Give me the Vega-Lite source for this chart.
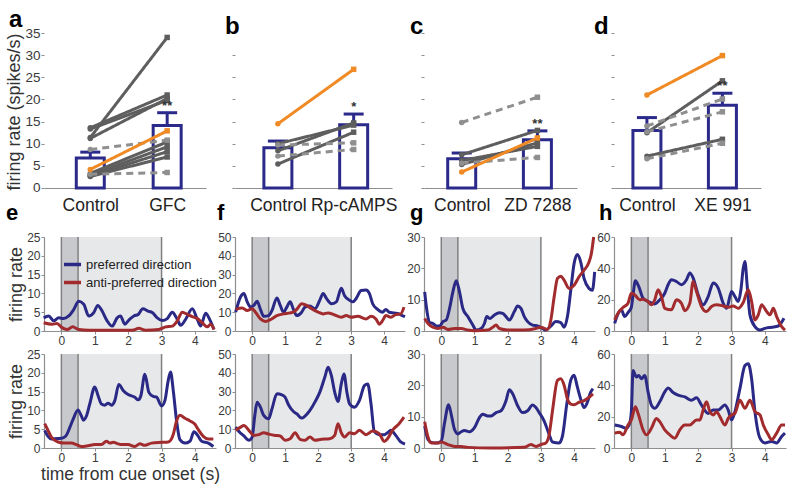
{
"$schema":"https://vega.github.io/schema/vega-lite/v6.json",
"background":"white",
"padding":{"left":5,"top":8,"right":5,"bottom":5},
"config":{"font":"Liberation Sans","view":{"stroke":null},
"axis":{"grid":false,"labelOverlap":false,"domainColor":"#8e8e8e","domainWidth":1.2,"tickColor":"#8e8e8e","labelColor":"#3a3a3a","titleColor":"#333333","titleFontWeight":"normal","labelFont":"Liberation Sans","titleFont":"Liberation Sans"},
"title":{"font":"Liberation Sans","fontWeight":"bold","color":"#000000","anchor":"start","frame":"group","baseline":"alphabetic"}},
"datasets":{
"epochs":[{"t":0,"t2":0.5,"epoch":"cue"},{"t":0.5,"t2":3,"epoch":"delay"}],
"marks":[{"t":0},{"t":0.5},{"t":3}],
"e1":[
{"t":-0.53,"r":3.5,"d":"p"},{"t":-0.38,"r":4.0,"d":"p"},{"t":-0.23,"r":2.7,"d":"p"},{"t":-0.08,"r":3.5,"d":"p"},{"t":0.07,"r":3.3,"d":"p"},{"t":0.22,"r":4.0,"d":"p"},{"t":0.37,"r":5.7,"d":"p"},{"t":0.52,"r":7.9,"d":"p"},{"t":0.67,"r":7.1,"d":"p"},{"t":0.82,"r":4.0,"d":"p"},{"t":0.97,"r":4.9,"d":"p"},{"t":1.09,"r":6.8,"d":"p"},{"t":1.22,"r":5.3,"d":"p"},{"t":1.37,"r":2.7,"d":"p"},{"t":1.52,"r":1.3,"d":"p"},{"t":1.67,"r":3.5,"d":"p"},{"t":1.77,"r":4.0,"d":"p"},{"t":1.9,"r":1.8,"d":"p"},{"t":2.04,"r":3.1,"d":"p"},{"t":2.17,"r":4.0,"d":"p"},{"t":2.3,"r":4.4,"d":"p"},{"t":2.44,"r":5.9,"d":"p"},{"t":2.59,"r":5.3,"d":"p"},{"t":2.72,"r":4.9,"d":"p"},{"t":2.87,"r":3.5,"d":"p"},{"t":3.02,"r":2.8,"d":"p"},{"t":3.17,"r":3.3,"d":"p"},{"t":3.32,"r":5.0,"d":"p"},{"t":3.47,"r":3.1,"d":"p"},{"t":3.57,"r":1.5,"d":"p"},{"t":3.72,"r":3.1,"d":"p"},{"t":3.92,"r":5.9,"d":"p"},{"t":4.07,"r":3.1,"d":"p"},{"t":4.17,"r":1.3,"d":"p"},{"t":4.32,"r":4.7,"d":"p"},{"t":4.44,"r":3.1,"d":"p"},{"t":4.57,"r":0.4,"d":"p"},
{"t":-0.53,"r":2.2,"d":"a"},{"t":-0.28,"r":1.8,"d":"a"},{"t":-0.13,"r":2.0,"d":"a"},{"t":0.02,"r":0.9,"d":"a"},{"t":0.17,"r":0.4,"d":"a"},{"t":0.34,"r":1.1,"d":"a"},{"t":0.52,"r":0.4,"d":"a"},{"t":0.82,"r":0.2,"d":"a"},{"t":1.5,"r":0.2,"d":"a"},{"t":2.12,"r":0.2,"d":"a"},{"t":2.32,"r":0.7,"d":"a"},{"t":2.52,"r":0.2,"d":"a"},{"t":2.92,"r":0.4,"d":"a"},{"t":3.12,"r":1.1,"d":"a"},{"t":3.32,"r":1.3,"d":"a"},{"t":3.47,"r":2.7,"d":"a"},{"t":3.62,"r":5.0,"d":"a"},{"t":3.77,"r":4.4,"d":"a"},{"t":3.92,"r":3.8,"d":"a"},{"t":4.07,"r":3.3,"d":"a"},{"t":4.22,"r":2.2,"d":"a"},{"t":4.37,"r":1.1,"d":"a"},{"t":4.47,"r":1.8,"d":"a"},{"t":4.57,"r":0.4,"d":"a"}],
"e2":[
{"t":-0.5,"r":4.7,"d":"p"},{"t":-0.4,"r":3.1,"d":"p"},{"t":-0.3,"r":2.4,"d":"p"},{"t":-0.1,"r":2.5,"d":"p"},{"t":0.05,"r":2.7,"d":"p"},{"t":0.15,"r":3.4,"d":"p"},{"t":0.25,"r":5.4,"d":"p"},{"t":0.35,"r":7.6,"d":"p"},{"t":0.5,"r":10.1,"d":"p"},{"t":0.6,"r":8.5,"d":"p"},{"t":0.66,"r":7.4,"d":"p"},{"t":0.75,"r":8.5,"d":"p"},{"t":0.85,"r":11.7,"d":"p"},{"t":1.0,"r":16.2,"d":"p"},{"t":1.1,"r":13.9,"d":"p"},{"t":1.2,"r":11.7,"d":"p"},{"t":1.3,"r":11.4,"d":"p"},{"t":1.4,"r":11.9,"d":"p"},{"t":1.5,"r":11.4,"d":"p"},{"t":1.6,"r":12.6,"d":"p"},{"t":1.72,"r":16.9,"d":"p"},{"t":1.85,"r":15.3,"d":"p"},{"t":2.0,"r":14.2,"d":"p"},{"t":2.2,"r":13.5,"d":"p"},{"t":2.3,"r":12.8,"d":"p"},{"t":2.38,"r":13.9,"d":"p"},{"t":2.5,"r":19.6,"d":"p"},{"t":2.62,"r":14.8,"d":"p"},{"t":2.75,"r":13.7,"d":"p"},{"t":2.85,"r":13.5,"d":"p"},{"t":3.0,"r":11.2,"d":"p"},{"t":3.1,"r":12.6,"d":"p"},{"t":3.2,"r":18.0,"d":"p"},{"t":3.27,"r":20.2,"d":"p"},{"t":3.35,"r":15.3,"d":"p"},{"t":3.45,"r":7.2,"d":"p"},{"t":3.55,"r":2.2,"d":"p"},{"t":3.7,"r":1.3,"d":"p"},{"t":3.85,"r":1.8,"d":"p"},{"t":3.97,"r":4.3,"d":"p"},{"t":4.1,"r":3.1,"d":"p"},{"t":4.2,"r":1.8,"d":"p"},{"t":4.4,"r":1.3,"d":"p"},{"t":4.55,"r":0.4,"d":"p"},
{"t":-0.5,"r":6.5,"d":"a"},{"t":-0.4,"r":4.7,"d":"a"},{"t":-0.3,"r":2.9,"d":"a"},{"t":-0.1,"r":1.6,"d":"a"},{"t":0.1,"r":1.3,"d":"a"},{"t":0.3,"r":1.3,"d":"a"},{"t":0.45,"r":0.9,"d":"a"},{"t":0.6,"r":0.4,"d":"a"},{"t":0.8,"r":0.6,"d":"a"},{"t":1.0,"r":0.9,"d":"a"},{"t":1.2,"r":0.9,"d":"a"},{"t":1.35,"r":1.8,"d":"a"},{"t":1.45,"r":1.3,"d":"a"},{"t":1.55,"r":1.5,"d":"a"},{"t":1.7,"r":1.1,"d":"a"},{"t":1.8,"r":0.9,"d":"a"},{"t":2.0,"r":0.9,"d":"a"},{"t":2.2,"r":0.4,"d":"a"},{"t":2.35,"r":1.1,"d":"a"},{"t":2.5,"r":0.7,"d":"a"},{"t":2.7,"r":1.3,"d":"a"},{"t":3.0,"r":1.5,"d":"a"},{"t":3.2,"r":1.6,"d":"a"},{"t":3.35,"r":3.6,"d":"a"},{"t":3.45,"r":7.2,"d":"a"},{"t":3.55,"r":8.7,"d":"a"},{"t":3.7,"r":7.9,"d":"a"},{"t":3.85,"r":7.2,"d":"a"},{"t":4.0,"r":6.3,"d":"a"},{"t":4.1,"r":4.9,"d":"a"},{"t":4.25,"r":3.1,"d":"a"},{"t":4.4,"r":2.4,"d":"a"},{"t":4.55,"r":2.4,"d":"a"}],
"f1":[
{"t":-0.5,"r":10,"d":"p"},{"t":-0.35,"r":18.2,"d":"p"},{"t":-0.25,"r":20,"d":"p"},{"t":-0.15,"r":15.5,"d":"p"},{"t":-0.05,"r":12.7,"d":"p"},{"t":0.05,"r":13.6,"d":"p"},{"t":0.15,"r":15.8,"d":"p"},{"t":0.25,"r":11.5,"d":"p"},{"t":0.35,"r":7.8,"d":"p"},{"t":0.5,"r":8.2,"d":"p"},{"t":0.6,"r":10.9,"d":"p"},{"t":0.75,"r":17.6,"d":"p"},{"t":0.85,"r":13.6,"d":"p"},{"t":0.95,"r":10,"d":"p"},{"t":1.05,"r":12.7,"d":"p"},{"t":1.15,"r":15.5,"d":"p"},{"t":1.25,"r":11.5,"d":"p"},{"t":1.35,"r":8.2,"d":"p"},{"t":1.5,"r":10,"d":"p"},{"t":1.6,"r":12.7,"d":"p"},{"t":1.75,"r":13.3,"d":"p"},{"t":1.9,"r":11.8,"d":"p"},{"t":2.05,"r":16.4,"d":"p"},{"t":2.15,"r":20,"d":"p"},{"t":2.25,"r":17.3,"d":"p"},{"t":2.4,"r":14.5,"d":"p"},{"t":2.55,"r":15.5,"d":"p"},{"t":2.7,"r":22.7,"d":"p"},{"t":2.8,"r":18.7,"d":"p"},{"t":2.95,"r":16.4,"d":"p"},{"t":3.05,"r":15.5,"d":"p"},{"t":3.15,"r":17.3,"d":"p"},{"t":3.3,"r":21.5,"d":"p"},{"t":3.45,"r":21.8,"d":"p"},{"t":3.55,"r":20,"d":"p"},{"t":3.65,"r":14.5,"d":"p"},{"t":3.8,"r":11.5,"d":"p"},{"t":3.95,"r":10,"d":"p"},{"t":4.05,"r":11.5,"d":"p"},{"t":4.15,"r":10,"d":"p"},{"t":4.3,"r":9.6,"d":"p"},{"t":4.45,"r":9.1,"d":"p"},{"t":4.55,"r":8.2,"d":"p"},{"t":4.63,"r":7.6,"d":"p"},
{"t":-0.5,"r":11.5,"d":"a"},{"t":-0.3,"r":12.2,"d":"a"},{"t":-0.15,"r":10.9,"d":"a"},{"t":0.0,"r":11.8,"d":"a"},{"t":0.1,"r":10,"d":"a"},{"t":0.25,"r":6.4,"d":"a"},{"t":0.4,"r":5.1,"d":"a"},{"t":0.55,"r":6.0,"d":"a"},{"t":0.75,"r":8.2,"d":"a"},{"t":0.95,"r":9.1,"d":"a"},{"t":1.1,"r":9.5,"d":"a"},{"t":1.25,"r":10,"d":"a"},{"t":1.35,"r":11.5,"d":"a"},{"t":1.5,"r":14.5,"d":"a"},{"t":1.65,"r":13.6,"d":"a"},{"t":1.8,"r":11.8,"d":"a"},{"t":2.0,"r":10,"d":"a"},{"t":2.15,"r":9.1,"d":"a"},{"t":2.3,"r":9.6,"d":"a"},{"t":2.5,"r":8.5,"d":"a"},{"t":2.7,"r":7.3,"d":"a"},{"t":2.85,"r":8.2,"d":"a"},{"t":3.0,"r":7.3,"d":"a"},{"t":3.2,"r":7.8,"d":"a"},{"t":3.45,"r":6.4,"d":"a"},{"t":3.6,"r":7.8,"d":"a"},{"t":3.75,"r":6.4,"d":"a"},{"t":3.85,"r":3.6,"d":"a"},{"t":3.95,"r":5.5,"d":"a"},{"t":4.05,"r":8.2,"d":"a"},{"t":4.2,"r":7.3,"d":"a"},{"t":4.35,"r":8.7,"d":"a"},{"t":4.5,"r":9.1,"d":"a"},{"t":4.6,"r":12.7,"d":"a"}],
"f2":[
{"t":-0.5,"r":11.1,"d":"p"},{"t":-0.4,"r":8.8,"d":"p"},{"t":-0.25,"r":6.4,"d":"p"},{"t":-0.1,"r":4.1,"d":"p"},{"t":0.0,"r":5.8,"d":"p"},{"t":0.08,"r":17.3,"d":"p"},{"t":0.15,"r":24.4,"d":"p"},{"t":0.25,"r":21.7,"d":"p"},{"t":0.35,"r":17.3,"d":"p"},{"t":0.5,"r":15.5,"d":"p"},{"t":0.6,"r":20.8,"d":"p"},{"t":0.75,"r":28.8,"d":"p"},{"t":0.9,"r":28.3,"d":"p"},{"t":1.0,"r":27,"d":"p"},{"t":1.1,"r":23,"d":"p"},{"t":1.25,"r":19.4,"d":"p"},{"t":1.35,"r":18.2,"d":"p"},{"t":1.5,"r":15.9,"d":"p"},{"t":1.6,"r":17,"d":"p"},{"t":1.75,"r":20,"d":"p"},{"t":1.9,"r":24.4,"d":"p"},{"t":2.05,"r":29.7,"d":"p"},{"t":2.2,"r":37.6,"d":"p"},{"t":2.3,"r":42.9,"d":"p"},{"t":2.4,"r":38.5,"d":"p"},{"t":2.5,"r":29.7,"d":"p"},{"t":2.6,"r":24.7,"d":"p"},{"t":2.7,"r":34.1,"d":"p"},{"t":2.78,"r":39.4,"d":"p"},{"t":2.87,"r":29.7,"d":"p"},{"t":2.95,"r":23.5,"d":"p"},{"t":3.1,"r":21.7,"d":"p"},{"t":3.25,"r":25.3,"d":"p"},{"t":3.4,"r":33.2,"d":"p"},{"t":3.5,"r":34.1,"d":"p"},{"t":3.6,"r":23.5,"d":"p"},{"t":3.7,"r":8.8,"d":"p"},{"t":3.85,"r":7.1,"d":"p"},{"t":4.0,"r":7.1,"d":"p"},{"t":4.1,"r":8.1,"d":"p"},{"t":4.2,"r":9.4,"d":"p"},{"t":4.35,"r":6.7,"d":"p"},{"t":4.5,"r":3.2,"d":"p"},{"t":4.63,"r":2.1,"d":"p"},
{"t":-0.5,"r":9.4,"d":"a"},{"t":-0.35,"r":11.1,"d":"a"},{"t":-0.25,"r":12,"d":"a"},{"t":-0.1,"r":9.4,"d":"a"},{"t":0.05,"r":6.7,"d":"a"},{"t":0.2,"r":7.1,"d":"a"},{"t":0.35,"r":8.1,"d":"a"},{"t":0.5,"r":7.4,"d":"a"},{"t":0.7,"r":6.7,"d":"a"},{"t":0.85,"r":6.4,"d":"a"},{"t":1.0,"r":4.1,"d":"a"},{"t":1.15,"r":4.9,"d":"a"},{"t":1.3,"r":8.1,"d":"a"},{"t":1.45,"r":4.6,"d":"a"},{"t":1.6,"r":4.1,"d":"a"},{"t":1.75,"r":5.8,"d":"a"},{"t":1.9,"r":4.1,"d":"a"},{"t":2.1,"r":4.6,"d":"a"},{"t":2.35,"r":4.9,"d":"a"},{"t":2.5,"r":6.7,"d":"a"},{"t":2.6,"r":12.9,"d":"a"},{"t":2.7,"r":8.1,"d":"a"},{"t":2.8,"r":5.8,"d":"a"},{"t":2.95,"r":8.1,"d":"a"},{"t":3.1,"r":7.6,"d":"a"},{"t":3.25,"r":9.4,"d":"a"},{"t":3.45,"r":7.1,"d":"a"},{"t":3.65,"r":9,"d":"a"},{"t":3.85,"r":7.6,"d":"a"},{"t":4.0,"r":3.5,"d":"a"},{"t":4.1,"r":4.9,"d":"a"},{"t":4.25,"r":9.4,"d":"a"},{"t":4.45,"r":12.9,"d":"a"},{"t":4.6,"r":16.4,"d":"a"}],
"g1":[
{"t":-0.5,"r":12.5,"d":"p"},{"t":-0.42,"r":5.6,"d":"p"},{"t":-0.35,"r":2.7,"d":"p"},{"t":-0.25,"r":2.4,"d":"p"},{"t":-0.15,"r":1.6,"d":"p"},{"t":-0.05,"r":1.6,"d":"p"},{"t":0.05,"r":3.0,"d":"p"},{"t":0.15,"r":3.5,"d":"p"},{"t":0.25,"r":7.2,"d":"p"},{"t":0.35,"r":12.5,"d":"p"},{"t":0.45,"r":16,"d":"p"},{"t":0.55,"r":12.5,"d":"p"},{"t":0.65,"r":7.2,"d":"p"},{"t":0.8,"r":4.6,"d":"p"},{"t":0.95,"r":1.9,"d":"p"},{"t":1.05,"r":0.3,"d":"p"},{"t":1.2,"r":0.8,"d":"p"},{"t":1.3,"r":2.4,"d":"p"},{"t":1.37,"r":4.6,"d":"p"},{"t":1.47,"r":4.0,"d":"p"},{"t":1.6,"r":5.1,"d":"p"},{"t":1.75,"r":5.8,"d":"p"},{"t":1.85,"r":5.6,"d":"p"},{"t":1.95,"r":4.6,"d":"p"},{"t":2.05,"r":3.5,"d":"p"},{"t":2.2,"r":6.2,"d":"p"},{"t":2.3,"r":8,"d":"p"},{"t":2.4,"r":7.2,"d":"p"},{"t":2.5,"r":4.6,"d":"p"},{"t":2.6,"r":3.0,"d":"p"},{"t":2.75,"r":1.9,"d":"p"},{"t":2.9,"r":1.6,"d":"p"},{"t":3.05,"r":0.8,"d":"p"},{"t":3.15,"r":0.3,"d":"p"},{"t":3.3,"r":1.6,"d":"p"},{"t":3.45,"r":3.0,"d":"p"},{"t":3.6,"r":2.7,"d":"p"},{"t":3.7,"r":1.2,"d":"p"},{"t":3.8,"r":4.6,"d":"p"},{"t":3.9,"r":13,"d":"p"},{"t":4.0,"r":21.5,"d":"p"},{"t":4.1,"r":24.4,"d":"p"},{"t":4.2,"r":22,"d":"p"},{"t":4.3,"r":16.8,"d":"p"},{"t":4.45,"r":13.6,"d":"p"},{"t":4.55,"r":13,"d":"p"},{"t":4.62,"r":18.9,"d":"p"},
{"t":-0.5,"r":4.0,"d":"a"},{"t":-0.4,"r":2.4,"d":"a"},{"t":-0.25,"r":1.2,"d":"a"},{"t":-0.1,"r":0.8,"d":"a"},{"t":0.05,"r":1.2,"d":"a"},{"t":0.2,"r":0.5,"d":"a"},{"t":0.4,"r":0.8,"d":"a"},{"t":0.6,"r":0.8,"d":"a"},{"t":0.8,"r":0.3,"d":"a"},{"t":1.0,"r":0.1,"d":"a"},{"t":1.4,"r":0.3,"d":"a"},{"t":1.55,"r":1.2,"d":"a"},{"t":1.65,"r":1.9,"d":"a"},{"t":1.75,"r":0.8,"d":"a"},{"t":2.0,"r":0.3,"d":"a"},{"t":2.5,"r":0.3,"d":"a"},{"t":2.85,"r":0.8,"d":"a"},{"t":3.0,"r":1.2,"d":"a"},{"t":3.2,"r":0.5,"d":"a"},{"t":3.3,"r":3.5,"d":"a"},{"t":3.4,"r":10.9,"d":"a"},{"t":3.5,"r":16.8,"d":"a"},{"t":3.6,"r":17.5,"d":"a"},{"t":3.7,"r":16.2,"d":"a"},{"t":3.85,"r":13.6,"d":"a"},{"t":4.0,"r":14.6,"d":"a"},{"t":4.15,"r":17.3,"d":"a"},{"t":4.3,"r":19.4,"d":"a"},{"t":4.45,"r":22,"d":"a"},{"t":4.52,"r":24.7,"d":"a"},{"t":4.59,"r":30,"d":"a"}],
"g2":[
{"t":-0.5,"r":7,"d":"p"},{"t":-0.4,"r":2.7,"d":"p"},{"t":-0.3,"r":1.8,"d":"p"},{"t":-0.15,"r":1.6,"d":"p"},{"t":0.0,"r":2.2,"d":"p"},{"t":0.1,"r":8.1,"d":"p"},{"t":0.22,"r":13.8,"d":"p"},{"t":0.32,"r":9.7,"d":"p"},{"t":0.4,"r":5.9,"d":"p"},{"t":0.5,"r":4.5,"d":"p"},{"t":0.6,"r":5.2,"d":"p"},{"t":0.7,"r":5.6,"d":"p"},{"t":0.85,"r":5.2,"d":"p"},{"t":1.0,"r":6.5,"d":"p"},{"t":1.15,"r":9.7,"d":"p"},{"t":1.25,"r":10.8,"d":"p"},{"t":1.4,"r":10.2,"d":"p"},{"t":1.5,"r":10.2,"d":"p"},{"t":1.65,"r":11.3,"d":"p"},{"t":1.8,"r":11.9,"d":"p"},{"t":1.95,"r":15.1,"d":"p"},{"t":2.05,"r":18.6,"d":"p"},{"t":2.15,"r":17.3,"d":"p"},{"t":2.3,"r":13.5,"d":"p"},{"t":2.45,"r":11.3,"d":"p"},{"t":2.6,"r":11.9,"d":"p"},{"t":2.75,"r":13.7,"d":"p"},{"t":2.85,"r":12.9,"d":"p"},{"t":2.95,"r":11.3,"d":"p"},{"t":3.1,"r":8.6,"d":"p"},{"t":3.25,"r":4.3,"d":"p"},{"t":3.35,"r":1.9,"d":"p"},{"t":3.55,"r":1.6,"d":"p"},{"t":3.65,"r":3.8,"d":"p"},{"t":3.78,"r":14,"d":"p"},{"t":3.9,"r":21.6,"d":"p"},{"t":4.0,"r":23.2,"d":"p"},{"t":4.1,"r":19.4,"d":"p"},{"t":4.2,"r":15.6,"d":"p"},{"t":4.3,"r":12.9,"d":"p"},{"t":4.4,"r":14.6,"d":"p"},{"t":4.5,"r":17.8,"d":"p"},{"t":4.57,"r":18.9,"d":"p"},
{"t":-0.5,"r":8.4,"d":"a"},{"t":-0.4,"r":3.5,"d":"a"},{"t":-0.3,"r":1.6,"d":"a"},{"t":-0.1,"r":1.6,"d":"a"},{"t":0.0,"r":1.9,"d":"a"},{"t":0.2,"r":1.1,"d":"a"},{"t":0.4,"r":0.5,"d":"a"},{"t":0.6,"r":0.5,"d":"a"},{"t":0.8,"r":0.2,"d":"a"},{"t":1.5,"r":0.0,"d":"a"},{"t":2.5,"r":0.2,"d":"a"},{"t":2.7,"r":1.1,"d":"a"},{"t":2.85,"r":0.5,"d":"a"},{"t":3.0,"r":1.1,"d":"a"},{"t":3.15,"r":1.6,"d":"a"},{"t":3.25,"r":4.3,"d":"a"},{"t":3.35,"r":11.9,"d":"a"},{"t":3.5,"r":21.6,"d":"a"},{"t":3.6,"r":22.1,"d":"a"},{"t":3.7,"r":20,"d":"a"},{"t":3.8,"r":15.6,"d":"a"},{"t":3.9,"r":14,"d":"a"},{"t":4.0,"r":13.8,"d":"a"},{"t":4.15,"r":14.6,"d":"a"},{"t":4.3,"r":15.1,"d":"a"},{"t":4.45,"r":16.2,"d":"a"},{"t":4.57,"r":17.3,"d":"a"}],
"h1":[
{"t":-0.5,"r":4.9,"d":"p"},{"t":-0.4,"r":10.9,"d":"p"},{"t":-0.3,"r":13.5,"d":"p"},{"t":-0.2,"r":9.2,"d":"p"},{"t":-0.1,"r":11.8,"d":"p"},{"t":0.0,"r":15.2,"d":"p"},{"t":0.05,"r":23.1,"d":"p"},{"t":0.12,"r":32,"d":"p"},{"t":0.22,"r":28.4,"d":"p"},{"t":0.35,"r":20.9,"d":"p"},{"t":0.5,"r":18.8,"d":"p"},{"t":0.7,"r":17.3,"d":"p"},{"t":0.85,"r":19.9,"d":"p"},{"t":1.0,"r":24.1,"d":"p"},{"t":1.1,"r":29.5,"d":"p"},{"t":1.2,"r":32.7,"d":"p"},{"t":1.35,"r":31.6,"d":"p"},{"t":1.5,"r":29.5,"d":"p"},{"t":1.65,"r":32.7,"d":"p"},{"t":1.75,"r":37,"d":"p"},{"t":1.85,"r":33.8,"d":"p"},{"t":2.0,"r":23.1,"d":"p"},{"t":2.15,"r":16.7,"d":"p"},{"t":2.3,"r":22,"d":"p"},{"t":2.45,"r":30.6,"d":"p"},{"t":2.6,"r":27.4,"d":"p"},{"t":2.75,"r":17.7,"d":"p"},{"t":2.85,"r":14.5,"d":"p"},{"t":3.0,"r":25.2,"d":"p"},{"t":3.1,"r":22,"d":"p"},{"t":3.2,"r":18.8,"d":"p"},{"t":3.28,"r":26.3,"d":"p"},{"t":3.35,"r":40.2,"d":"p"},{"t":3.4,"r":44.4,"d":"p"},{"t":3.47,"r":28.4,"d":"p"},{"t":3.55,"r":10.3,"d":"p"},{"t":3.7,"r":2.8,"d":"p"},{"t":3.85,"r":0.6,"d":"p"},{"t":4.0,"r":1.7,"d":"p"},{"t":4.2,"r":2.4,"d":"p"},{"t":4.4,"r":3.2,"d":"p"},{"t":4.57,"r":8.1,"d":"p"},
{"t":-0.5,"r":7.1,"d":"a"},{"t":-0.4,"r":11.3,"d":"a"},{"t":-0.25,"r":15,"d":"a"},{"t":-0.1,"r":17.7,"d":"a"},{"t":0.0,"r":24.1,"d":"a"},{"t":0.1,"r":23.1,"d":"a"},{"t":0.25,"r":19.9,"d":"a"},{"t":0.35,"r":20.3,"d":"a"},{"t":0.5,"r":18.8,"d":"a"},{"t":0.6,"r":16.7,"d":"a"},{"t":0.7,"r":19.9,"d":"a"},{"t":0.8,"r":26.3,"d":"a"},{"t":0.9,"r":22,"d":"a"},{"t":1.0,"r":14.5,"d":"a"},{"t":1.2,"r":13.5,"d":"a"},{"t":1.35,"r":19.9,"d":"a"},{"t":1.5,"r":17.7,"d":"a"},{"t":1.6,"r":13,"d":"a"},{"t":1.75,"r":17.7,"d":"a"},{"t":1.85,"r":31.6,"d":"a"},{"t":1.95,"r":25.2,"d":"a"},{"t":2.1,"r":15.6,"d":"a"},{"t":2.25,"r":12.4,"d":"a"},{"t":2.4,"r":15.6,"d":"a"},{"t":2.55,"r":16.7,"d":"a"},{"t":2.75,"r":16,"d":"a"},{"t":2.9,"r":15.2,"d":"a"},{"t":3.05,"r":16,"d":"a"},{"t":3.2,"r":14.5,"d":"a"},{"t":3.35,"r":18.2,"d":"a"},{"t":3.5,"r":26.3,"d":"a"},{"t":3.6,"r":18.8,"d":"a"},{"t":3.7,"r":7.1,"d":"a"},{"t":3.8,"r":10.3,"d":"a"},{"t":3.9,"r":16.7,"d":"a"},{"t":4.05,"r":12.4,"d":"a"},{"t":4.15,"r":10.3,"d":"a"},{"t":4.25,"r":14.5,"d":"a"},{"t":4.35,"r":9.2,"d":"a"},{"t":4.5,"r":2.8,"d":"a"},{"t":4.6,"r":0.6,"d":"a"}],
"h2":[
{"t":-0.5,"r":14.7,"d":"p"},{"t":-0.3,"r":13.7,"d":"p"},{"t":-0.15,"r":12.6,"d":"p"},{"t":-0.05,"r":15.8,"d":"p"},{"t":0.0,"r":23.2,"d":"p"},{"t":0.05,"r":49.5,"d":"p"},{"t":0.15,"r":45.3,"d":"p"},{"t":0.22,"r":46.3,"d":"p"},{"t":0.3,"r":44.2,"d":"p"},{"t":0.4,"r":46.3,"d":"p"},{"t":0.5,"r":35.8,"d":"p"},{"t":0.6,"r":27.4,"d":"p"},{"t":0.7,"r":25.3,"d":"p"},{"t":0.85,"r":29.5,"d":"p"},{"t":1.0,"r":35.8,"d":"p"},{"t":1.1,"r":38.3,"d":"p"},{"t":1.25,"r":35.4,"d":"p"},{"t":1.4,"r":33.7,"d":"p"},{"t":1.6,"r":32.6,"d":"p"},{"t":1.8,"r":30.5,"d":"p"},{"t":1.95,"r":32,"d":"p"},{"t":2.1,"r":27.4,"d":"p"},{"t":2.3,"r":22.1,"d":"p"},{"t":2.45,"r":24.2,"d":"p"},{"t":2.6,"r":24.2,"d":"p"},{"t":2.8,"r":27.4,"d":"p"},{"t":2.9,"r":24.2,"d":"p"},{"t":3.0,"r":17.9,"d":"p"},{"t":3.1,"r":23.2,"d":"p"},{"t":3.25,"r":37.9,"d":"p"},{"t":3.4,"r":52.6,"d":"p"},{"t":3.5,"r":53.7,"d":"p"},{"t":3.6,"r":44.2,"d":"p"},{"t":3.7,"r":23.2,"d":"p"},{"t":3.85,"r":6.3,"d":"p"},{"t":4.0,"r":3.2,"d":"p"},{"t":4.2,"r":4.2,"d":"p"},{"t":4.35,"r":3.2,"d":"p"},{"t":4.5,"r":7.4,"d":"p"},{"t":4.6,"r":9.5,"d":"p"},
{"t":-0.5,"r":9.5,"d":"a"},{"t":-0.35,"r":10.1,"d":"a"},{"t":-0.25,"r":8.4,"d":"a"},{"t":-0.1,"r":14.7,"d":"a"},{"t":0.0,"r":17.9,"d":"a"},{"t":0.12,"r":26.3,"d":"a"},{"t":0.2,"r":22.1,"d":"a"},{"t":0.35,"r":11.6,"d":"a"},{"t":0.45,"r":8.4,"d":"a"},{"t":0.6,"r":12.6,"d":"a"},{"t":0.75,"r":18.9,"d":"a"},{"t":0.85,"r":16.8,"d":"a"},{"t":1.0,"r":11.6,"d":"a"},{"t":1.15,"r":8.4,"d":"a"},{"t":1.3,"r":6.3,"d":"a"},{"t":1.45,"r":11.6,"d":"a"},{"t":1.6,"r":14.7,"d":"a"},{"t":1.75,"r":14.7,"d":"a"},{"t":1.95,"r":17.9,"d":"a"},{"t":2.05,"r":17.9,"d":"a"},{"t":2.15,"r":24.2,"d":"a"},{"t":2.25,"r":29.5,"d":"a"},{"t":2.35,"r":23.2,"d":"a"},{"t":2.45,"r":21.1,"d":"a"},{"t":2.55,"r":23.2,"d":"a"},{"t":2.65,"r":20,"d":"a"},{"t":2.8,"r":14.7,"d":"a"},{"t":2.9,"r":18.9,"d":"a"},{"t":3.0,"r":21.1,"d":"a"},{"t":3.1,"r":22.1,"d":"a"},{"t":3.25,"r":30.5,"d":"a"},{"t":3.4,"r":25.3,"d":"a"},{"t":3.55,"r":30.5,"d":"a"},{"t":3.7,"r":23.2,"d":"a"},{"t":3.85,"r":21.1,"d":"a"},{"t":3.95,"r":14.7,"d":"a"},{"t":4.1,"r":8.4,"d":"a"},{"t":4.2,"r":5.3,"d":"a"},{"t":4.35,"r":9.5,"d":"a"},{"t":4.5,"r":14.7,"d":"a"},{"t":4.6,"r":14.7,"d":"a"}]
},
"columns":4,
"spacing":{"row":23,"column":19},
"bounds":"flush",
"resolve":{"scale":{"color":"independent","strokeDash":"independent"}},
"concat":[
{"width":162,"height":181,
"title":{"text":"a","dx":-35,"fontSize":24,"offset":-6},
"encoding":{"x":{"field":"x","type":"quantitative","scale":{"domain":[0.463,2.44],"nice":false,"zero":false},"axis":{"values":[1,2],"labelExpr":"datum.value==1?'Control':'GFC'","ticks":false,"title":null,"labelFontSize":17.5,"labelPadding":8,"labelColor":"#222222","offset":-26}},
"y":{"field":"y","type":"quantitative","scale":{"domain":[-5.871,35],"nice":false,"zero":false},"axis":{"values":[0,5,10,15,20,25,30,35],"domain":false,"title":"firing rate (spikes/s)","titleAnchor":"end","titleFontSize":18,"labelFontSize":13.5,"tickSize":3,"labelPadding":1,"titlePadding":1}}},
"layer":[
{"data":{"values":[{}]},"mark":{"type":"rule","color":"#8e8e8e","strokeWidth":1.2},"encoding":{"x":{"datum":0.463},"y":{"datum":0},"y2":{"datum":35}}},
{"data":{"values":[{"x":1,"y":6.8,"err":8.1},{"x":2,"y":14.1,"err":17.0}]},"layer":[
{"mark":{"type":"bar","width":28,"fill":"white","stroke":"#2b2a8a","strokeWidth":3}},
{"mark":{"type":"rule","stroke":"#2b2a8a","strokeWidth":3},"encoding":{"y2":{"field":"err"}}},
{"mark":{"type":"tick","orient":"horizontal","size":20,"thickness":3,"color":"#2b2a8a","opacity":1},"encoding":{"y":{"field":"err","type":"quantitative"}}}]},
{"data":{"values":[
{"x":1,"y":11.4,"pair":"s1","type":"solid"},{"x":2,"y":34.0,"pair":"s1","type":"solid"},
{"x":1,"y":13.6,"pair":"s2","type":"solid"},{"x":2,"y":21.0,"pair":"s2","type":"solid"},
{"x":1,"y":11.2,"pair":"s3","type":"solid"},{"x":2,"y":20.2,"pair":"s3","type":"solid"},
{"x":1,"y":13.3,"pair":"s4","type":"solid"},{"x":2,"y":19.8,"pair":"s4","type":"solid"},
{"x":1,"y":3.3,"pair":"s5","type":"solid"},{"x":2,"y":10.4,"pair":"s5","type":"solid"},
{"x":1,"y":2.9,"pair":"s6","type":"solid"},{"x":2,"y":9.3,"pair":"s6","type":"solid"},
{"x":1,"y":2.7,"pair":"s7","type":"solid"},{"x":2,"y":8.2,"pair":"s7","type":"solid"},
{"x":1,"y":2.6,"pair":"s8","type":"solid"},{"x":2,"y":7.0,"pair":"s8","type":"solid"},
{"x":1,"y":8.7,"pair":"d1","type":"dashed"},{"x":2,"y":10.8,"pair":"d1","type":"dashed"},
{"x":1,"y":3.1,"pair":"d2","type":"dashed"},{"x":2,"y":3.5,"pair":"d2","type":"dashed"},
{"x":1,"y":4.2,"pair":"o1","type":"orange"},{"x":2,"y":12.9,"pair":"o1","type":"orange"}]},
"layer":[
{"mark":{"type":"line","strokeWidth":3},"encoding":{"detail":{"field":"pair"},"color":{"field":"type","scale":{"domain":["solid","dashed","orange"],"range":["#5e5e5e","#8f8f8f","#f08a24"]},"legend":null},"strokeDash":{"field":"type","scale":{"domain":["solid","dashed","orange"],"range":[[1,0],[7,5],[1,0]]},"legend":null}}},
{"mark":{"type":"point","filled":true,"size":30,"opacity":1},"encoding":{"color":{"field":"type","scale":{"domain":["solid","dashed","orange"],"range":["#5e5e5e","#8f8f8f","#f08a24"]},"legend":null},"shape":{"condition":{"test":"datum.x==1","value":"circle"},"value":"square"}}}]},
{"data":{"values":[{"x":2,"y":17.0,"s":"**"}]},"mark":{"type":"text","dy":-7,"fontSize":13,"fontWeight":"bold","color":"#333333"},"encoding":{"text":{"field":"s"}}}]},
{"width":157,"height":181,
"title":{"text":"b","dx":-10,"fontSize":24,"offset":-6},
"encoding":{"x":{"field":"x","type":"quantitative","scale":{"domain":[0.5,2.44],"nice":false,"zero":false},"axis":{"values":[1,2],"labelExpr":"datum.value==1?'Control':'Rp-cAMPS'","ticks":false,"title":null,"labelFontSize":17.5,"labelPadding":8,"labelColor":"#222222","offset":-26}},
"y":{"field":"y","type":"quantitative","scale":{"domain":[-5.871,35],"nice":false,"zero":false},"axis":{"values":[0,5,10,15,20,25,30,35],"domain":false,"title":null,"labels":false,"tickSize":3}}},
"layer":[
{"data":{"values":[{}]},"mark":{"type":"rule","color":"#8e8e8e","strokeWidth":1.2},"encoding":{"x":{"datum":0.5},"y":{"datum":0},"y2":{"datum":35}}},
{"data":{"values":[{"x":1,"y":9.1,"err":10.6},{"x":2,"y":14.3,"err":16.7}]},"layer":[
{"mark":{"type":"bar","width":28,"fill":"white","stroke":"#2b2a8a","strokeWidth":3}},
{"mark":{"type":"rule","stroke":"#2b2a8a","strokeWidth":3},"encoding":{"y2":{"field":"err"}}},
{"mark":{"type":"tick","orient":"horizontal","size":20,"thickness":3,"color":"#2b2a8a","opacity":1},"encoding":{"y":{"field":"err","type":"quantitative"}}}]},
{"data":{"values":[
{"x":1,"y":10.0,"pair":"s1","type":"solid"},{"x":2,"y":14.2,"pair":"s1","type":"solid"},
{"x":1,"y":8.4,"pair":"s2","type":"solid"},{"x":2,"y":14.7,"pair":"s2","type":"solid"},
{"x":1,"y":5.4,"pair":"s3","type":"solid"},{"x":2,"y":12.6,"pair":"s3","type":"solid"},
{"x":1,"y":9.7,"pair":"d1","type":"dashed"},{"x":2,"y":10.2,"pair":"d1","type":"dashed"},
{"x":1,"y":7.2,"pair":"d2","type":"dashed"},{"x":2,"y":8.7,"pair":"d2","type":"dashed"},
{"x":1,"y":14.5,"pair":"o1","type":"orange"},{"x":2,"y":26.8,"pair":"o1","type":"orange"}]},
"layer":[
{"mark":{"type":"line","strokeWidth":3},"encoding":{"detail":{"field":"pair"},"color":{"field":"type","scale":{"domain":["solid","dashed","orange"],"range":["#5e5e5e","#8f8f8f","#f08a24"]},"legend":null},"strokeDash":{"field":"type","scale":{"domain":["solid","dashed","orange"],"range":[[1,0],[7,5],[1,0]]},"legend":null}}},
{"mark":{"type":"point","filled":true,"size":30,"opacity":1},"encoding":{"color":{"field":"type","scale":{"domain":["solid","dashed","orange"],"range":["#5e5e5e","#8f8f8f","#f08a24"]},"legend":null},"shape":{"condition":{"test":"datum.x==1","value":"circle"},"value":"square"}}}]},
{"data":{"values":[{"x":2,"y":16.7,"s":"*"}]},"mark":{"type":"text","dy":-7,"fontSize":13,"fontWeight":"bold","color":"#333333"},"encoding":{"text":{"field":"s"}}}]},
{"width":153,"height":181,
"title":{"text":"c","dx":-14,"fontSize":24,"offset":-6},
"encoding":{"x":{"field":"x","type":"quantitative","scale":{"domain":[0.568,2.457],"nice":false,"zero":false},"axis":{"values":[1,2],"labelExpr":"datum.value==1?'Control':'ZD 7288'","ticks":false,"title":null,"labelFontSize":17.5,"labelPadding":8,"labelColor":"#222222","offset":-26}},
"y":{"field":"y","type":"quantitative","scale":{"domain":[-5.871,35],"nice":false,"zero":false},"axis":{"values":[0,5,10,15,20,25,30,35],"domain":false,"title":null,"labels":false,"tickSize":3}}},
"layer":[
{"data":{"values":[{}]},"mark":{"type":"rule","color":"#8e8e8e","strokeWidth":1.2},"encoding":{"x":{"datum":0.568},"y":{"datum":0},"y2":{"datum":35}}},
{"data":{"values":[{"x":1,"y":6.6,"err":7.9},{"x":2,"y":10.9,"err":12.9}]},"layer":[
{"mark":{"type":"bar","width":28,"fill":"white","stroke":"#2b2a8a","strokeWidth":3}},
{"mark":{"type":"rule","stroke":"#2b2a8a","strokeWidth":3},"encoding":{"y2":{"field":"err"}}},
{"mark":{"type":"tick","orient":"horizontal","size":20,"thickness":3,"color":"#2b2a8a","opacity":1},"encoding":{"y":{"field":"err","type":"quantitative"}}}]},
{"data":{"values":[
{"x":1,"y":7.5,"pair":"s1","type":"solid"},{"x":2,"y":13.0,"pair":"s1","type":"solid"},
{"x":1,"y":6.2,"pair":"s2","type":"solid"},{"x":2,"y":9.4,"pair":"s2","type":"solid"},
{"x":1,"y":5.3,"pair":"s3","type":"solid"},{"x":2,"y":10.2,"pair":"s3","type":"solid"},
{"x":1,"y":14.8,"pair":"d1","type":"dashed"},{"x":2,"y":20.5,"pair":"d1","type":"dashed"},
{"x":1,"y":5.6,"pair":"d2","type":"dashed"},{"x":2,"y":6.9,"pair":"d2","type":"dashed"},
{"x":1,"y":3.6,"pair":"o1","type":"orange"},{"x":2,"y":11.3,"pair":"o1","type":"orange"}]},
"layer":[
{"mark":{"type":"line","strokeWidth":3},"encoding":{"detail":{"field":"pair"},"color":{"field":"type","scale":{"domain":["solid","dashed","orange"],"range":["#5e5e5e","#8f8f8f","#f08a24"]},"legend":null},"strokeDash":{"field":"type","scale":{"domain":["solid","dashed","orange"],"range":[[1,0],[7,5],[1,0]]},"legend":null}}},
{"mark":{"type":"point","filled":true,"size":30,"opacity":1},"encoding":{"color":{"field":"type","scale":{"domain":["solid","dashed","orange"],"range":["#5e5e5e","#8f8f8f","#f08a24"]},"legend":null},"shape":{"condition":{"test":"datum.x==1","value":"circle"},"value":"square"}}}]},
{"data":{"values":[{"x":2,"y":12.9,"s":"**"}]},"mark":{"type":"text","dy":-7,"fontSize":13,"fontWeight":"bold","color":"#333333"},"encoding":{"text":{"field":"s"}}}]},
{"width":147,"height":181,
"title":{"text":"d","dx":-20,"fontSize":24,"offset":-6},
"encoding":{"x":{"field":"x","type":"quantitative","scale":{"domain":[0.63,2.445],"nice":false,"zero":false},"axis":{"values":[1,2],"labelExpr":"datum.value==1?'Control':'XE 991'","ticks":false,"title":null,"labelFontSize":17.5,"labelPadding":8,"labelColor":"#222222","offset":-26}},
"y":{"field":"y","type":"quantitative","scale":{"domain":[-5.871,35],"nice":false,"zero":false},"axis":{"values":[0,5,10,15,20,25,30,35],"domain":false,"title":null,"labels":false,"tickSize":3}}},
"layer":[
{"data":{"values":[{}]},"mark":{"type":"rule","color":"#8e8e8e","strokeWidth":1.2},"encoding":{"x":{"datum":0.63},"y":{"datum":0},"y2":{"datum":35}}},
{"data":{"values":[{"x":1,"y":13.0,"err":15.9},{"x":2,"y":18.7,"err":21.4}]},"layer":[
{"mark":{"type":"bar","width":28,"fill":"white","stroke":"#2b2a8a","strokeWidth":3}},
{"mark":{"type":"rule","stroke":"#2b2a8a","strokeWidth":3},"encoding":{"y2":{"field":"err"}}},
{"mark":{"type":"tick","orient":"horizontal","size":20,"thickness":3,"color":"#2b2a8a","opacity":1},"encoding":{"y":{"field":"err","type":"quantitative"}}}]},
{"data":{"values":[
{"x":1,"y":12.5,"pair":"s1","type":"solid"},{"x":2,"y":24.2,"pair":"s1","type":"solid"},
{"x":1,"y":7.2,"pair":"s2","type":"solid"},{"x":2,"y":11.0,"pair":"s2","type":"solid"},
{"x":1,"y":14.0,"pair":"d1","type":"dashed"},{"x":2,"y":20.1,"pair":"d1","type":"dashed"},
{"x":1,"y":12.7,"pair":"d2","type":"dashed"},{"x":2,"y":17.2,"pair":"d2","type":"dashed"},
{"x":1,"y":6.6,"pair":"d3","type":"dashed"},{"x":2,"y":10.1,"pair":"d3","type":"dashed"},
{"x":1,"y":21.0,"pair":"o1","type":"orange"},{"x":2,"y":29.9,"pair":"o1","type":"orange"}]},
"layer":[
{"mark":{"type":"line","strokeWidth":3},"encoding":{"detail":{"field":"pair"},"color":{"field":"type","scale":{"domain":["solid","dashed","orange"],"range":["#5e5e5e","#8f8f8f","#f08a24"]},"legend":null},"strokeDash":{"field":"type","scale":{"domain":["solid","dashed","orange"],"range":[[1,0],[7,5],[1,0]]},"legend":null}}},
{"mark":{"type":"point","filled":true,"size":30,"opacity":1},"encoding":{"color":{"field":"type","scale":{"domain":["solid","dashed","orange"],"range":["#5e5e5e","#8f8f8f","#f08a24"]},"legend":null},"shape":{"condition":{"test":"datum.x==1","value":"circle"},"value":"square"}}}]},
{"data":{"values":[{"x":2,"y":21.4,"s":"**"}]},"mark":{"type":"text","dy":-7,"fontSize":13,"fontWeight":"bold","color":"#333333"},"encoding":{"text":{"field":"s"}}}]},
{"width":172,"height":94,"title":{"text":"e","dx":-38,"fontSize":22,"offset":6},
"encoding":{"x":{"field":"t","type":"quantitative","scale":{"domain":[-0.52,4.63],"nice":false,"zero":false},"axis":{"values":[0,1,2,3,4],"title":null,"labelFontSize":12,"tickSize":3,"labelPadding":1}}},
"layer":[
{"data":{"name":"epochs"},"mark":{"type":"rect"},"encoding":{"x2":{"field":"t2"},"fill":{"condition":{"test":"datum.epoch=='cue'","value":"#c8c9cd"},"value":"#e7e8ea"}}},
{"data":{"name":"marks"},"mark":{"type":"rule","color":"#808080","strokeWidth":1.5}},
{"data":{"name":"e1"},"mark":{"type":"line","strokeWidth":3,"interpolate":"monotone"},"encoding":{"y":{"field":"r","type":"quantitative","scale":{"domain":[0,25],"nice":false},"axis":{"values":[0,5,10,15,20,25],"title":"firing rate","titleFontSize":18,"labelFontSize":12,"tickSize":3,"labelPadding":1,"titlePadding":1}},"color":{"field":"d","type":"nominal","scale":{"domain":["p","a"],"range":["#2b2986","#a22b2e"]},"legend":{"orient":"none","legendX":18,"legendY":17,"title":null,"symbolType":"stroke","symbolStrokeWidth":3.5,"symbolSize":289,"labelFontSize":13,"labelColor":"#222222","labelOffset":3,"rowPadding":0,"labelLimit":300,"labelExpr":"datum.label=='p'?'preferred direction':'anti-preferred direction'"}}}},
{"data":{"values":[{}]},"mark":{"type":"text","fontSize":15,"align":"center","baseline":"middle","color":"#222222"},"encoding":{"x":{"datum":1.75},"y":{"datum":23.3,"type":"quantitative","scale":{"domain":[0,25],"nice":false},"axis":{"values":[0,5,10,15,20,25],"title":"firing rate","titleFontSize":18,"labelFontSize":12,"tickSize":3,"labelPadding":1,"titlePadding":1}},"text":{"value":"Control"}}}]},
{"width":170,"height":94,"title":{"text":"f","dx":-18,"fontSize":22,"offset":6},
"encoding":{"x":{"field":"t","type":"quantitative","scale":{"domain":[-0.52,4.63],"nice":false,"zero":false},"axis":{"values":[0,1,2,3,4],"title":null,"labelFontSize":12,"tickSize":3,"labelPadding":1}}},
"layer":[
{"data":{"name":"epochs"},"mark":{"type":"rect"},"encoding":{"x2":{"field":"t2"},"fill":{"condition":{"test":"datum.epoch=='cue'","value":"#c8c9cd"},"value":"#e7e8ea"}}},
{"data":{"name":"marks"},"mark":{"type":"rule","color":"#808080","strokeWidth":1.5}},
{"data":{"name":"f1"},"mark":{"type":"line","strokeWidth":3,"interpolate":"monotone"},"encoding":{"y":{"field":"r","type":"quantitative","scale":{"domain":[0,50],"nice":false},"axis":{"values":[0,10,20,30,40,50],"title":null,"labelFontSize":12,"tickSize":3,"labelPadding":1}},"color":{"field":"d","type":"nominal","scale":{"domain":["p","a"],"range":["#2b2986","#a22b2e"]},"legend":null}}},
{"data":{"values":[{}]},"mark":{"type":"text","fontSize":15,"align":"center","baseline":"middle","color":"#222222"},"encoding":{"x":{"datum":1.82},"y":{"datum":46.7,"type":"quantitative","scale":{"domain":[0,50],"nice":false},"axis":{"values":[0,10,20,30,40,50],"title":null,"labelFontSize":12,"tickSize":3,"labelPadding":1}},"text":{"value":"Control"}}}]},
{"width":171,"height":94,"title":{"text":"g","dx":-14,"fontSize":22,"offset":6},
"encoding":{"x":{"field":"t","type":"quantitative","scale":{"domain":[-0.52,4.63],"nice":false,"zero":false},"axis":{"values":[0,1,2,3,4],"title":null,"labelFontSize":12,"tickSize":3,"labelPadding":1}}},
"layer":[
{"data":{"name":"epochs"},"mark":{"type":"rect"},"encoding":{"x2":{"field":"t2"},"fill":{"condition":{"test":"datum.epoch=='cue'","value":"#c8c9cd"},"value":"#e7e8ea"}}},
{"data":{"name":"marks"},"mark":{"type":"rule","color":"#808080","strokeWidth":1.5}},
{"data":{"name":"g1"},"mark":{"type":"line","strokeWidth":3,"interpolate":"monotone"},"encoding":{"y":{"field":"r","type":"quantitative","scale":{"domain":[0,30],"nice":false},"axis":{"values":[0,10,20,30],"title":null,"labelFontSize":12,"tickSize":3,"labelPadding":1}},"color":{"field":"d","type":"nominal","scale":{"domain":["p","a"],"range":["#2b2986","#a22b2e"]},"legend":null}}},
{"data":{"values":[{}]},"mark":{"type":"text","fontSize":15,"align":"center","baseline":"middle","color":"#222222"},"encoding":{"x":{"datum":1.75},"y":{"datum":28.1,"type":"quantitative","scale":{"domain":[0,30],"nice":false},"axis":{"values":[0,10,20,30],"title":null,"labelFontSize":12,"tickSize":3,"labelPadding":1}},"text":{"value":"Control"}}}]},
{"width":172,"height":94,"title":{"text":"h","dx":-15,"fontSize":22,"offset":6},
"encoding":{"x":{"field":"t","type":"quantitative","scale":{"domain":[-0.52,4.63],"nice":false,"zero":false},"axis":{"values":[0,1,2,3,4],"title":null,"labelFontSize":12,"tickSize":3,"labelPadding":1}}},
"layer":[
{"data":{"name":"epochs"},"mark":{"type":"rect"},"encoding":{"x2":{"field":"t2"},"fill":{"condition":{"test":"datum.epoch=='cue'","value":"#c8c9cd"},"value":"#e7e8ea"}}},
{"data":{"name":"marks"},"mark":{"type":"rule","color":"#808080","strokeWidth":1.5}},
{"data":{"name":"h1"},"mark":{"type":"line","strokeWidth":3,"interpolate":"monotone"},"encoding":{"y":{"field":"r","type":"quantitative","scale":{"domain":[0,60],"nice":false},"axis":{"values":[0,20,40,60],"title":null,"labelFontSize":12,"tickSize":3,"labelPadding":1}},"color":{"field":"d","type":"nominal","scale":{"domain":["p","a"],"range":["#2b2986","#a22b2e"]},"legend":null}}},
{"data":{"values":[{}]},"mark":{"type":"text","fontSize":15,"align":"center","baseline":"middle","color":"#222222"},"encoding":{"x":{"datum":1.8},"y":{"datum":57.9,"type":"quantitative","scale":{"domain":[0,60],"nice":false},"axis":{"values":[0,20,40,60],"title":null,"labelFontSize":12,"tickSize":3,"labelPadding":1}},"text":{"value":"Control"}}}]},
{"width":172,"height":94,
"encoding":{"x":{"field":"t","type":"quantitative","scale":{"domain":[-0.52,4.63],"nice":false,"zero":false},"axis":{"values":[0,1,2,3,4],"title":"time from cue onset (s)","titleFontSize":17.5,"titlePadding":2,"labelFontSize":12,"tickSize":3,"labelPadding":1}}},
"layer":[
{"data":{"name":"epochs"},"mark":{"type":"rect"},"encoding":{"x2":{"field":"t2"},"fill":{"condition":{"test":"datum.epoch=='cue'","value":"#c8c9cd"},"value":"#e7e8ea"}}},
{"data":{"name":"marks"},"mark":{"type":"rule","color":"#808080","strokeWidth":1.5}},
{"data":{"name":"e2"},"mark":{"type":"line","strokeWidth":3,"interpolate":"monotone"},"encoding":{"y":{"field":"r","type":"quantitative","scale":{"domain":[0,25],"nice":false},"axis":{"values":[0,5,10,15,20,25],"title":"firing rate","titleFontSize":18,"labelFontSize":12,"tickSize":3,"labelPadding":1,"titlePadding":1}},"color":{"field":"d","type":"nominal","scale":{"domain":["p","a"],"range":["#2b2986","#a22b2e"]},"legend":null}}},
{"data":{"values":[{}]},"mark":{"type":"text","fontSize":14.5,"align":"left","baseline":"middle","color":"#222222"},"encoding":{"x":{"datum":0.6},"y":{"datum":23.6,"type":"quantitative","scale":{"domain":[0,25],"nice":false},"axis":{"values":[0,5,10,15,20,25],"title":"firing rate","titleFontSize":18,"labelFontSize":12,"tickSize":3,"labelPadding":1,"titlePadding":1}},"text":{"value":"GFC@10nA"}}}]},
{"width":170,"height":94,
"encoding":{"x":{"field":"t","type":"quantitative","scale":{"domain":[-0.52,4.63],"nice":false,"zero":false},"axis":{"values":[0,1,2,3,4],"title":null,"labelFontSize":12,"tickSize":3,"labelPadding":1}}},
"layer":[
{"data":{"name":"epochs"},"mark":{"type":"rect"},"encoding":{"x2":{"field":"t2"},"fill":{"condition":{"test":"datum.epoch=='cue'","value":"#c8c9cd"},"value":"#e7e8ea"}}},
{"data":{"name":"marks"},"mark":{"type":"rule","color":"#808080","strokeWidth":1.5}},
{"data":{"name":"f2"},"mark":{"type":"line","strokeWidth":3,"interpolate":"monotone"},"encoding":{"y":{"field":"r","type":"quantitative","scale":{"domain":[0,50],"nice":false},"axis":{"values":[0,10,20,30,40,50],"title":null,"labelFontSize":12,"tickSize":3,"labelPadding":1}},"color":{"field":"d","type":"nominal","scale":{"domain":["p","a"],"range":["#2b2986","#a22b2e"]},"legend":null}}},
{"data":{"values":[{}]},"mark":{"type":"text","fontSize":14.5,"align":"left","baseline":"middle","color":"#222222"},"encoding":{"x":{"datum":0.57},"y":{"datum":47,"type":"quantitative","scale":{"domain":[0,50],"nice":false},"axis":{"values":[0,10,20,30,40,50],"title":null,"labelFontSize":12,"tickSize":3,"labelPadding":1}},"text":{"value":"Rp-cAMPS@50nA"}}}]},
{"width":171,"height":94,
"encoding":{"x":{"field":"t","type":"quantitative","scale":{"domain":[-0.52,4.63],"nice":false,"zero":false},"axis":{"values":[0,1,2,3,4],"title":null,"labelFontSize":12,"tickSize":3,"labelPadding":1}}},
"layer":[
{"data":{"name":"epochs"},"mark":{"type":"rect"},"encoding":{"x2":{"field":"t2"},"fill":{"condition":{"test":"datum.epoch=='cue'","value":"#c8c9cd"},"value":"#e7e8ea"}}},
{"data":{"name":"marks"},"mark":{"type":"rule","color":"#808080","strokeWidth":1.5}},
{"data":{"name":"g2"},"mark":{"type":"line","strokeWidth":3,"interpolate":"monotone"},"encoding":{"y":{"field":"r","type":"quantitative","scale":{"domain":[0,30],"nice":false},"axis":{"values":[0,10,20,30],"title":null,"labelFontSize":12,"tickSize":3,"labelPadding":1}},"color":{"field":"d","type":"nominal","scale":{"domain":["p","a"],"range":["#2b2986","#a22b2e"]},"legend":null}}},
{"data":{"values":[{}]},"mark":{"type":"text","fontSize":14.5,"align":"left","baseline":"middle","color":"#222222"},"encoding":{"x":{"datum":0.58},"y":{"datum":28.6,"type":"quantitative","scale":{"domain":[0,30],"nice":false},"axis":{"values":[0,10,20,30],"title":null,"labelFontSize":12,"tickSize":3,"labelPadding":1}},"text":{"value":"ZD 7288@10nA"}}}]},
{"width":172,"height":94,
"encoding":{"x":{"field":"t","type":"quantitative","scale":{"domain":[-0.52,4.63],"nice":false,"zero":false},"axis":{"values":[0,1,2,3,4],"title":null,"labelFontSize":12,"tickSize":3,"labelPadding":1}}},
"layer":[
{"data":{"name":"epochs"},"mark":{"type":"rect"},"encoding":{"x2":{"field":"t2"},"fill":{"condition":{"test":"datum.epoch=='cue'","value":"#c8c9cd"},"value":"#e7e8ea"}}},
{"data":{"name":"marks"},"mark":{"type":"rule","color":"#808080","strokeWidth":1.5}},
{"data":{"name":"h2"},"mark":{"type":"line","strokeWidth":3,"interpolate":"monotone"},"encoding":{"y":{"field":"r","type":"quantitative","scale":{"domain":[0,60],"nice":false},"axis":{"values":[0,20,40,60],"title":null,"labelFontSize":12,"tickSize":3,"labelPadding":1}},"color":{"field":"d","type":"nominal","scale":{"domain":["p","a"],"range":["#2b2986","#a22b2e"]},"legend":null}}},
{"data":{"values":[{}]},"mark":{"type":"text","fontSize":14.5,"align":"left","baseline":"middle","color":"#222222"},"encoding":{"x":{"datum":0.63},"y":{"datum":56.4,"type":"quantitative","scale":{"domain":[0,60],"nice":false},"axis":{"values":[0,20,40,60],"title":null,"labelFontSize":12,"tickSize":3,"labelPadding":1}},"text":{"value":"XE 991@15nA"}}}]}
]
}
